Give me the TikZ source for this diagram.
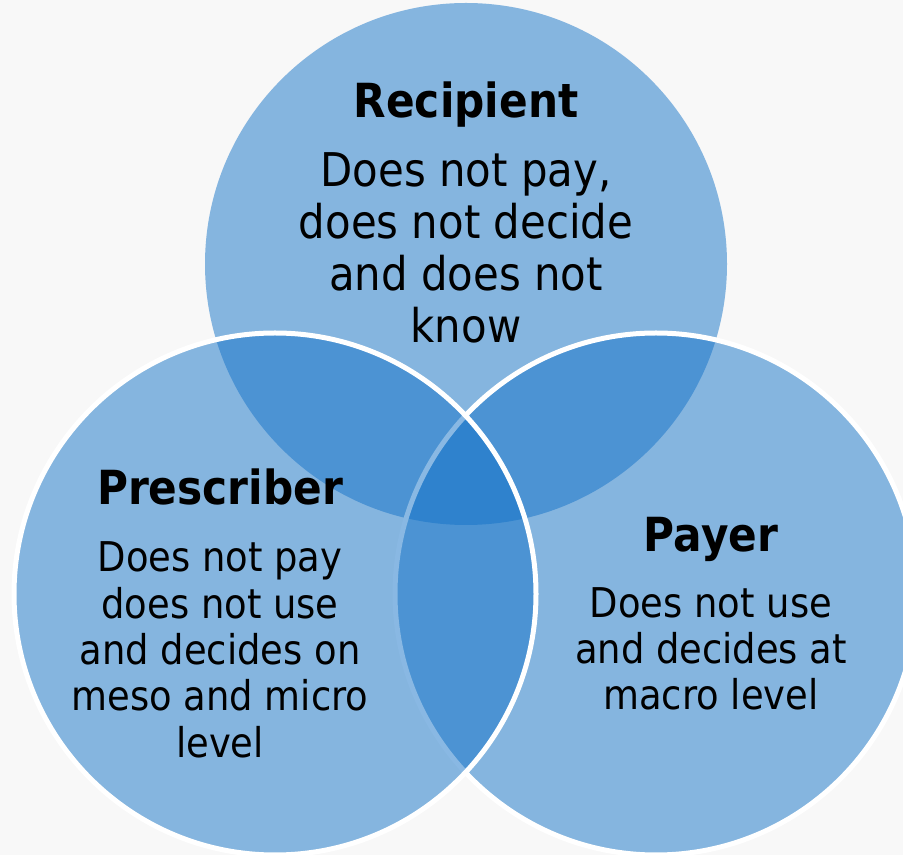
\documentclass[tikz,border=0pt]{standalone}
\usepackage{fontspec}
\setmainfont{DejaVu Sans}[FakeStretch=0.9]
\usepackage{tikz}
\usetikzlibrary{positioning}
\pgfdeclarelayer{bg}
\pgfsetlayers{bg,main}
\definecolor{vennblue}{RGB}{20,115,200}
\definecolor{paper}{RGB}{248,248,248}
\tikzset{
  venn/.style={circle, minimum size=522pt, inner sep=0pt, fill=vennblue, fill opacity=0.5},
  rim/.style={draw=white, line width=5pt},
  title/.style={anchor=base, inner sep=0pt, font=\fontsize{47}{52}\selectfont\bfseries},
  body/.style={anchor=base, align=center, inner sep=0pt, font=\fontsize{41}{46.3}\selectfont},
}
\begin{document}
\begin{tikzpicture}[x=1pt, y=1pt]
    \useasboundingbox (0,0) rectangle (903,855);

    \begin{pgfonlayer}{bg}    % plain paper behind the circles
        \fill [paper] (0,0) rectangle (903,855);
    \end{pgfonlayer}

    \node [venn] (top) at (466,591) {};
    \node [venn, rim] (right) at (656,261) {};
    \node [venn, rim] (left) at (275,261) {};

    % base of a multi-line node = baseline of its last line
    \node [title] (recipient) at (466,737) {Recipient};
    \node [body, font=\fontsize{46.5}{52}\selectfont] (recipienttext) at (466,512)
        {Does not pay,\\does not decide\\and does not\\know};

    \node [title] (prescriber) at (220,350) {Prescriber};
    \node [body] (prescribertext) at (220,98)
        {Does not pay\\does not use\\and decides on\\meso and micro\\level};

    \node [title] (payer) at (711,303) {Payer};
    \node [body] (payertext) at (711,145)
        {Does not use\\and decides at\\macro level};
\end{tikzpicture}
\end{document}
